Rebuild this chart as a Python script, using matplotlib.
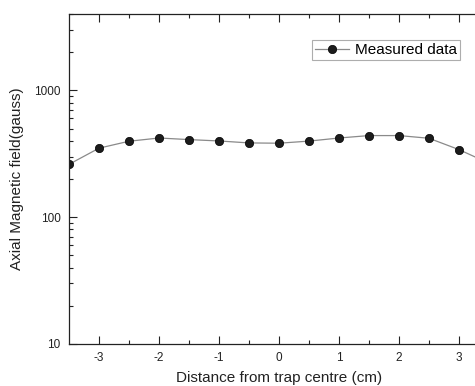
import matplotlib
matplotlib.use('Agg')
import matplotlib.pyplot as plt
from matplotlib.ticker import LogLocator, FixedLocator, NullFormatter

# distance from trap centre (cm) and axial field (gauss)
distance = [-3.5, -3.0, -2.5, -2.0, -1.5, -1.0, -0.5, 0.0, 0.5, 1.0, 1.5, 2.0, 2.5, 3.0, 3.5]
field = [261, 350, 397, 421, 409, 399, 385, 383, 398, 421, 440, 440, 419, 341, 266]

plt.rcParams['font.family'] = ['Liberation Sans', 'DejaVu Sans']
plt.rcParams['axes.unicode_minus'] = False

fig = plt.figure(figsize=(4.75, 3.86), dpi=100)
# right part of the axes runs past the figure edge, as in the original crop
ax = fig.add_axes([69 / 475, 42 / 386, 420 / 475, 330 / 386])

ax.plot(distance, field, color='#8a8a8a', lw=0.9, marker='o', ms=6,
        mfc='#1c1c1c', mec='#000000', mew=0.5, label='Measured data')

ax.set_yscale('log')
ax.set_xlim(-3.5, 3.5)
ax.set_ylim(10, 4000)

ax.xaxis.set_major_locator(FixedLocator([-3, -2, -1, 0, 1, 2, 3]))
ax.xaxis.set_minor_locator(FixedLocator([-2.5, -1.5, -0.5, 0.5, 1.5, 2.5]))
ax.yaxis.set_major_locator(FixedLocator([10, 100, 1000]))
ax.yaxis.set_minor_locator(LogLocator(base=10, subs=range(2, 10)))
ax.yaxis.set_minor_formatter(NullFormatter())
ax.set_yticklabels(['10', '100', '1000'])

ax.tick_params(which='both', direction='in', top=True, right=True, labelsize=8.5, colors='#222222')
ax.tick_params(which='major', length=6, width=0.8, pad=6)
ax.tick_params(which='minor', length=3, width=0.8)
for s in ax.spines.values():
    s.set_linewidth(0.9)
    s.set_color('#222222')

ax.set_xlabel('Distance from trap centre (cm)', fontsize=11, color='#222222', labelpad=5)
ax.set_ylabel('Axial Magnetic field(gauss)', fontsize=11, color='#222222', labelpad=7)

leg = ax.legend(loc='upper left', bbox_to_anchor=((312 - 69) / 420, 1 - 26 / 330), fontsize=11,
                frameon=True, fancybox=False, handlelength=2.2, handletextpad=0.4,
                borderpad=0.2, borderaxespad=0)
leg.get_frame().set_edgecolor('#999999')
leg.get_frame().set_linewidth(0.8)

plt.savefig('out.png', dpi=100)
